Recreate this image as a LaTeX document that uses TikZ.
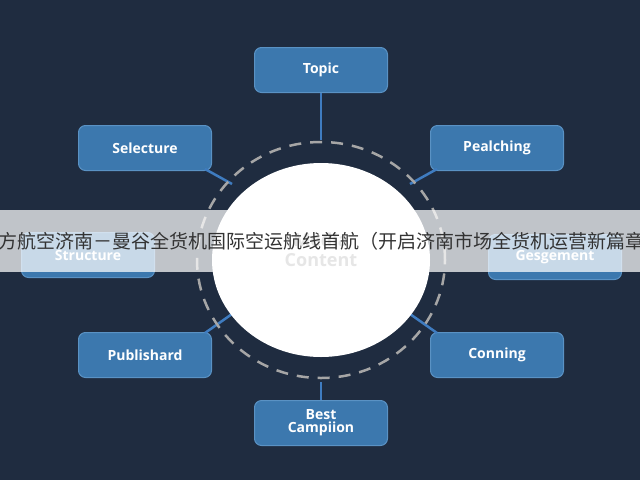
\documentclass[tikz,border=0pt]{standalone}
\usepackage{fontspec}
\setmainfont{Open Sans}
\newfontfamily\cjk{Noto Sans CJK SC}
\begin{document}
\begin{tikzpicture}[x=1pt,y=-1pt,
 box/.style={rounded corners=7pt,fill=boxc,draw=boxb,line width=1pt,minimum width=133pt,minimum height=45pt,text=white,font=\fontsize{14}{16}\selectfont\bfseries,align=center},
 link/.style={draw=linec,line width=2.5pt}]
\definecolor{bg}{HTML}{1F2C40}
\definecolor{boxc}{HTML}{3C78AE}
\definecolor{boxb}{HTML}{5A92C4}
\definecolor{linec}{HTML}{3F7CC0}
\fill[bg] (0,0) rectangle (640,480);
\useasboundingbox (0,0) rectangle (640,480);
\coordinate (c) at (321,260);
\node[box] (topic) at (321,70) {Topic};
\node[box] (sel) at (145,148) {Selecture};
\node[box] (pea) at (497,148) {Pealching};
\node[box] (str) at (88,255) {Structure};
\node[box] (ges) at (555,257) {Gesgement};
\node[box] (pub) at (145,355) {Publishard};
\node[box] (con) at (497,355) {Conning};
\node[box] (best) at (321,423) {Best\\[-3pt]Campiion};
\coordinate (s2) at (205,169);
\coordinate (s3) at (437,169);
\coordinate (s4) at (205,333);
\coordinate (s5) at (437,333);
\coordinate (r1) at (321,140);
\coordinate (r2) at (232,184);
\coordinate (r3) at (410,184);
\coordinate (r4) at (232,314);
\coordinate (r5) at (410,314);
\coordinate (r6) at (321,382);
\draw[link] (topic) -- (r1);
\draw[link] (s2) -- (r2);
\draw[link] (s3) -- (r3);
\draw[link] (s4) -- (r4);
\draw[link] (s5) -- (r5);
\draw[link] (best) -- (r6);
\draw[gray!70,line width=2.5pt,dash pattern=on 12pt off 9pt] (c) ellipse (124pt and 118pt);
\fill[white] (c) ellipse (109pt and 97pt);
\node[text=gray!70,font=\fontsize{18}{20}\selectfont\bfseries,align=center] (ctext) at (321,250) {Media\\Content};
\fill[white,opacity=0.72] (0,210) rectangle (640,272);
\node[font=\cjk\fontsize{19}{22}\selectfont,text=black!80] (banner) at (322,241) {东方航空济南－曼谷全货机国际空运航线首航（开启济南市场全货机运营新篇章）};
\end{tikzpicture}
\end{document}
